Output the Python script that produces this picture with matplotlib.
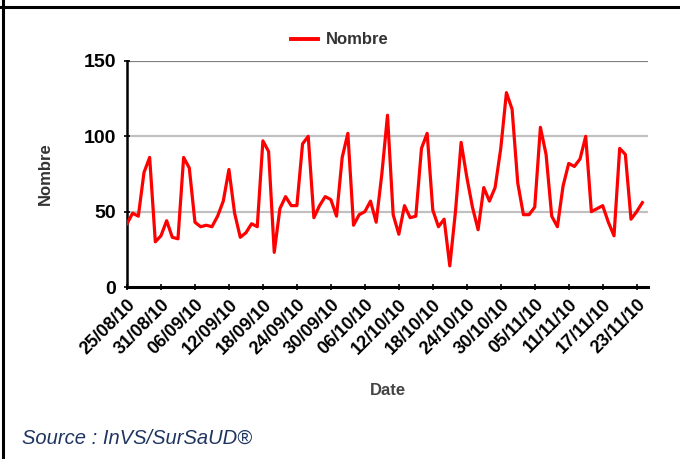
import pandas as pd
import matplotlib.pyplot as plt
import matplotlib.dates as mdates
from matplotlib.lines import Line2D

plt.rcParams['font.family'] = ['Liberation Sans', 'DejaVu Sans']

# Daily counts, 25/08/10 -> 24/11/10
nombre = [42, 49, 47, 76, 86, 30, 34, 44, 33, 32,
          86, 79, 43, 40, 41, 40, 47, 57, 78, 49,
          33, 36, 42, 40, 97, 90, 23, 52, 60, 54,
          54, 95, 100, 46, 54, 60, 58, 47, 86, 102,
          41, 48, 50, 57, 43, 75, 114, 48, 35, 54,
          46, 47, 92, 102, 51, 40, 45, 14, 50, 96,
          73, 53, 38, 66, 57, 66, 92, 129, 118, 69,
          48, 48, 53, 106, 88, 47, 40, 67, 82, 80,
          85, 100, 50, 52, 54, 43, 34, 92, 88, 45,
          50, 56]
dates = pd.date_range("2010-08-25", periods=len(nombre), freq="D")
tick_dates = pd.date_range("2010-08-25", "2010-11-23", freq="6D")

fig = plt.figure(figsize=(6.8, 4.59), dpi=100)
ax = fig.add_axes([127 / 680, 1 - 287 / 459, (648 - 127) / 680, (287 - 61) / 459])

ax.plot(dates, nombre, color="#ff0000", lw=2.3, label="Nombre", zorder=3)

ax.set_ylim(0, 150)
ax.set_xlim(dates[0], dates[0] + pd.Timedelta(days=92))
ax.set_yticks([0, 50, 100, 150])
for v, c in [(50, "#c0c0c0"), (100, "#c0c0c0"), (150, "#808080")]:
    ax.axhline(v, color=c, lw=1.6, zorder=1)

ax.set_xticks(tick_dates)
ax.xaxis.set_major_formatter(mdates.DateFormatter("%d/%m/%y"))
plt.setp(ax.get_xticklabels(), rotation=45, ha="right", rotation_mode="anchor",
         fontsize=13, fontweight="bold")
plt.setp(ax.get_yticklabels(), fontsize=14, fontweight="bold")
ax.tick_params(axis="x", direction="inout", length=5, width=1.2, pad=4)
ax.tick_params(axis="y", direction="inout", length=4, width=1.2, pad=6)

for s in ["top", "right"]:
    ax.spines[s].set_visible(False)
ax.spines["left"].set_linewidth(1.8)
ax.spines["bottom"].set_linewidth(2.2)

ax.set_ylabel("Nombre", fontsize=12, fontweight="bold", color="#333333", labelpad=22)
ax.set_xlabel("Date", fontsize=12, fontweight="bold", color="#444444", labelpad=18)

fig.legend(handles=[Line2D([], [], color="#ff0000", lw=2.8)], labels=["Nombre"],
           loc="center", bbox_to_anchor=(340 / 680, 1 - 40 / 459), frameon=False,
           handlelength=1.6, handletextpad=0.5,
           prop={"size": 12, "weight": "bold"}, labelcolor="#333333")

fig.text(22 / 680, 1 - 438 / 459, "Source : InVS/SurSaUD®", fontsize=14.5,
         style="italic", color="#1f3560", va="center")

# outer frame lines
fig.add_artist(Line2D([0, 1], [1 - 7 / 459] * 2, color="black", lw=2.2))
fig.add_artist(Line2D([3 / 680] * 2, [0, 1], color="black", lw=2.2))

plt.savefig("out.png", dpi=100)
